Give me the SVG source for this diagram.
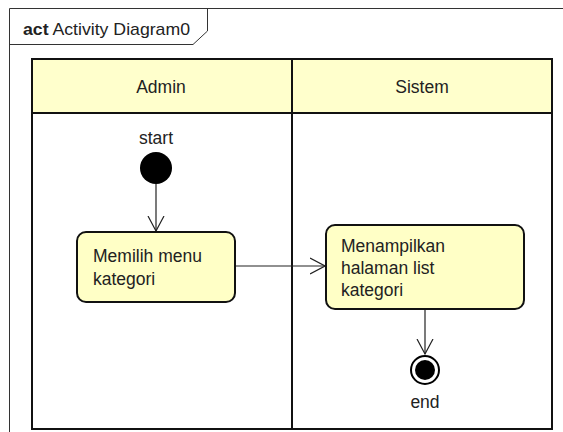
<svg xmlns="http://www.w3.org/2000/svg" width="563" height="432" viewBox="0 0 563 432">
<style>
text{font-family:"Liberation Sans",Arial,sans-serif;font-size:17.5px;fill:#222}
.lane{fill:#fff;stroke:#111;stroke-width:2}
.hdr{fill:#ffffcc;stroke:#111;stroke-width:2}
.act{fill:#ffffc6;stroke:#111;stroke-width:2}
.conn{stroke:#222;stroke-width:1.2;fill:none}
</style>
<defs>
<marker id="arr" viewBox="0 0 16 18" refX="15" refY="9" markerWidth="16" markerHeight="18" markerUnits="userSpaceOnUse" orient="auto">
<path d="M0,1 L15,9 L0,17" fill="none" stroke="#222" stroke-width="1.2"/>
</marker>
</defs>
<rect x="0" y="0" width="563" height="432" fill="#fff"/>
<g id="frame">
<path d="M9.5,440 V8.5 H570" fill="none" stroke="#333" stroke-width="1"/>
<path d="M9.5,44.5 H193 L207.5,31 V8.5" fill="none" stroke="#333" stroke-width="1"/>
<text x="23" y="35" style="font-size:17px" textLength="167" lengthAdjust="spacingAndGlyphs"><tspan font-weight="bold">act</tspan> Activity Diagram0</text>
</g>
<g id="lanes">
<rect class="lane" x="32" y="59" width="520" height="370"/>
<rect class="hdr" x="32" y="59" width="520" height="54"/>
<line x1="292" y1="59" x2="292" y2="429" stroke="#111" stroke-width="2"/>
<text x="161" y="93" text-anchor="middle">Admin</text>
<text x="422" y="93" text-anchor="middle">Sistem</text>
</g>
<g id="connectors">
<line class="conn" x1="156" y1="184" x2="156" y2="231" marker-end="url(#arr)"/>
<line class="conn" x1="236" y1="266" x2="325" y2="266" marker-end="url(#arr)"/>
<line class="conn" x1="425" y1="310" x2="425" y2="354" marker-end="url(#arr)"/>
</g>
<g id="start">
<text x="156" y="144" text-anchor="middle">start</text>
<circle cx="156" cy="168" r="16" fill="#000"/>
</g>
<g id="memilih">
<rect class="act" x="77" y="232" width="158" height="70" rx="9"/>
<text x="93" y="262">Memilih menu</text>
<text x="93" y="285">kategori</text>
</g>
<g id="menampilkan">
<rect class="act" x="326" y="225" width="198" height="84" rx="9"/>
<text x="341" y="252">Menampilkan</text>
<text x="341" y="274">halaman list</text>
<text x="341" y="296">kategori</text>
</g>
<g id="end">
<circle cx="425" cy="370" r="14" fill="#fff" stroke="#000" stroke-width="2"/>
<circle cx="425" cy="370" r="10" fill="#000"/>
<text x="425" y="408" text-anchor="middle">end</text>
</g>
</svg>
